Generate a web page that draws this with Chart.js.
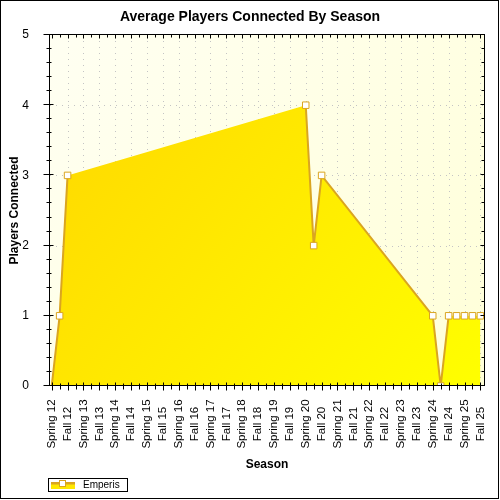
<!DOCTYPE html>
<html>
<head>
<meta charset="utf-8">
<script src="https://cdn.jsdelivr.net/npm/chart.js@4/dist/chart.umd.min.js"></script>
<style>
  html, body { margin: 0; padding: 0; background: #fff; }
  #wrap { width: 500px; height: 500px; }
  canvas { display: block; }
</style>
</head>
<body>
<div id="wrap"><canvas id="c" width="500" height="500"></canvas></div>
<script>
// ---- data ----
const chartTitle = 'Average Players Connected By Season';
const xAxisTitle = 'Season';
const yAxisTitle = 'Players Connected';
const seriesName = 'Emperis';
const seasonLabels = ['Spring 12','Fall 12','Spring 13','Fall 13','Spring 14','Fall 14','Spring 15','Fall 15',
  'Spring 16','Fall 16','Spring 17','Fall 17','Spring 18','Fall 18','Spring 19','Fall 19','Spring 20','Fall 20',
  'Spring 21','Fall 21','Spring 22','Fall 22','Spring 23','Fall 23','Spring 24','Fall 24','Spring 25','Fall 25'];
// position of each reading on the season axis (index into seasonLabels, half = between seasons)
const seasonPos = [0, 0.5, 1, 16, 16.5, 17, 24, 24.5, 25, 25.5, 26, 26.5, 27];
const playersConnected = [0, 1, 3, 4, 2, 3, 1, 0, 1, 1, 1, 1, 1];
const yTicks = [0, 1, 2, 3, 4, 5];

// ---- styles ----
const FONT = "'Liberation Sans', Arial, sans-serif";
const LINE = '#DAA520';
const NONE = 'rgba(0,0,0,0)';

const makePoints = () => seasonPos.map((x, i) => ({ x: x, y: playersConnected[i] }));

const decor = {
  id: 'decor',
  beforeDraw(chart) {
    const { ctx, chartArea: a } = chart;
    ctx.save();
    ctx.fillStyle = '#fff';
    ctx.fillRect(0, 0, chart.width, chart.height);
    const g = ctx.createLinearGradient(a.left, a.top, a.right, a.bottom);
    g.addColorStop(0, '#FFFFF2');
    g.addColorStop(1, '#FFFFD8');
    ctx.fillStyle = g;
    ctx.fillRect(a.left, a.top, a.right - a.left, a.bottom - a.top);
    const xs = chart.scales.x, ys = chart.scales.y;
    ctx.strokeStyle = '#C4C4C4';
    ctx.lineWidth = 1;
    ctx.setLineDash([1, 5]);
    for (let i = 1; i < seasonLabels.length; i++) {
      const px = Math.round(xs.getPixelForValue(i)) + 0.5;
      if (px >= a.right) continue;
      ctx.beginPath(); ctx.moveTo(px, a.top); ctx.lineTo(px, a.bottom); ctx.stroke();
    }
    yTicks.forEach(v => {
      if (v === yTicks[0] || v === yTicks[yTicks.length - 1]) return;
      const py = Math.round(ys.getPixelForValue(v)) + 0.5;
      ctx.beginPath(); ctx.moveTo(a.left, py); ctx.lineTo(a.right, py); ctx.stroke();
    });
    ctx.setLineDash([]);
    ctx.restore();
  },
  afterDraw(chart) {
    const { ctx, chartArea: a } = chart;
    const xs = chart.scales.x, ys = chart.scales.y;
    ctx.save();
    ctx.strokeStyle = '#000';
    ctx.lineWidth = 1;
    ctx.strokeRect(0.5, 0.5, 498, 498);
    const L = a.left - 0.5, R = a.right + 0.5, T = a.top - 0.5, B = a.bottom - 0.5;
    ctx.strokeRect(L, T, R - L, B - T);
    ctx.beginPath();
    for (let k = 0; k <= (seasonLabels.length - 1) * 2; k++) {
      const v = k / 2, major = k % 2 === 0;
      const px = Math.round(xs.getPixelForValue(v)) + 0.5;
      ctx.moveTo(px, B - (major ? 3 : 2)); ctx.lineTo(px, B + (major ? 5 : 4));
      ctx.moveTo(px, T); ctx.lineTo(px, T + (major ? 4 : 3));
    }
    for (let k = 0; k <= 25; k++) {
      const v = k / 5, major = k % 5 === 0;
      const py = Math.round(ys.getPixelForValue(v)) - 0.5;
      ctx.moveTo(L - (major ? 6 : 3), py); ctx.lineTo(L + (major ? 4 : 2), py);
      ctx.moveTo(R, py); ctx.lineTo(R - (major ? 4 : 3), py);
    }
    ctx.stroke();
    ctx.fillStyle = '#000';
    ctx.font = '11.5px ' + FONT;
    ctx.textAlign = 'center';
    ctx.textBaseline = 'middle';
    seasonLabels.forEach((lab, i) => {
      const px = xs.getPixelForValue(i);
      ctx.save();
      ctx.translate(px, 424);
      ctx.rotate(-Math.PI / 2);
      ctx.fillText(lab, 0, 0);
      ctx.restore();
    });
    ctx.font = 'bold 14px ' + FONT;
    ctx.fillText(chartTitle, 250, 17);
    ctx.font = 'bold 12px ' + FONT;
    ctx.fillText(xAxisTitle, (a.left + a.right) / 2, 465);
    ctx.save();
    ctx.translate(15, (a.top + a.bottom) / 2);
    ctx.rotate(-Math.PI / 2);
    ctx.fillText(yAxisTitle, 0, 0);
    ctx.restore();
    // legend
    ctx.strokeStyle = '#000';
    ctx.strokeRect(48.5, 478.5, 79, 13);
    ctx.fillStyle = '#FFE800';
    ctx.fillRect(51, 482, 24, 7);
    ctx.fillStyle = LINE;
    ctx.fillRect(51, 482, 24, 2.5);
    ctx.fillStyle = '#fff';
    ctx.fillRect(59.5, 480.5, 6, 6);
    ctx.strokeStyle = LINE;
    ctx.strokeRect(59.5, 480.5, 6, 6);
    ctx.fillStyle = '#000';
    ctx.font = '10px ' + FONT;
    ctx.textAlign = 'left';
    ctx.fillText(chart.data.datasets[0].label, 83, 485);
    ctx.restore();
  }
};

function steepColor(c) {
  const xs = c.chart && c.chart.scales && c.chart.scales.x;
  const ys = c.chart && c.chart.scales && c.chart.scales.y;
  const i0 = c.p0DataIndex, i1 = c.p1DataIndex;
  let dx, dy;
  if (xs && ys && xs.width > 0 && ys.height > 0) {
    dx = Math.abs(xs.getPixelForValue(seasonPos[i1]) - xs.getPixelForValue(seasonPos[i0]));
    dy = Math.abs(ys.getPixelForValue(playersConnected[i1]) - ys.getPixelForValue(playersConnected[i0]));
  } else {
    dx = Math.abs(seasonPos[i1] - seasonPos[i0]) * 16;
    dy = Math.abs(playersConnected[i1] - playersConnected[i0]) * 70;
  }
  return dy > dx ? LINE : NONE;
}

new Chart(document.getElementById('c'), {
  type: 'line',
  data: {
    datasets: [{
      label: seriesName,
      data: makePoints(),
      order: 2,
      borderWidth: 0,
      borderColor: NONE,
      tension: 0,
      fill: 'origin',
      backgroundColor: (c) => {
        const a = c.chart.chartArea;
        if (!a) return '#FFE600';
        const g = c.chart.ctx.createLinearGradient(a.left, a.top, a.right, a.bottom);
        g.addColorStop(0, '#FFD500');
        g.addColorStop(1, '#FFFF00');
        return g;
      },
      pointRadius: 0
    }, {
      label: seriesName + ' line',
      data: makePoints(),
      order: 1,
      borderColor: LINE,
      borderWidth: 2,
      tension: 0,
      fill: false,
      segment: { borderColor: steepColor },
      pointStyle: 'rect',
      pointRadius: (c) => c.dataIndex === 0 ? 0 : 4.6,
      pointBackgroundColor: '#fff',
      pointBorderColor: LINE,
      pointBorderWidth: 1
    }]
  },
  options: {
    responsive: false,
    animation: false,
    devicePixelRatio: 1,
    layout: { padding: { top: 35, right: 16, left: 0, bottom: 0 } },
    plugins: { legend: { display: false }, title: { display: false }, tooltip: { enabled: false } },
    scales: {
      x: {
        type: 'linear', min: -0.107, max: 27.227,
        ticks: { display: false },
        grid: { display: false },
        border: { display: false },
        afterFit: (s) => { s.height = 114; }
      },
      y: {
        min: 0, max: 5,
        ticks: { stepSize: 1, color: '#000', font: { family: FONT, size: 12 }, padding: 13 },
        grid: { display: false },
        border: { display: false },
        afterFit: (s) => { s.width = 50; }
      }
    }
  },
  plugins: [decor]
});
</script>
</body>
</html>
